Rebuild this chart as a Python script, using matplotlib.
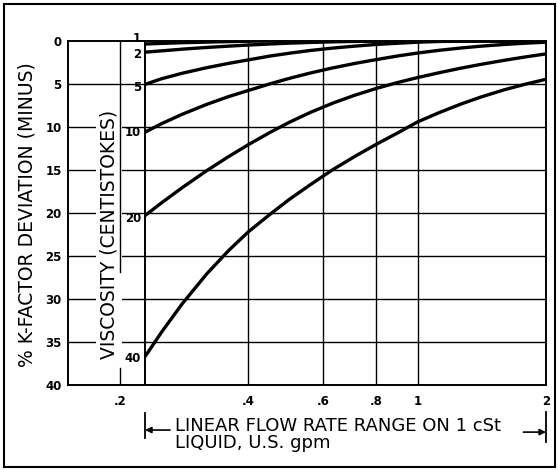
import matplotlib.pyplot as plt
import matplotlib.transforms as mtransforms
from matplotlib.patches import Rectangle

# viscosity of each curve (centistokes)
viscosity = [1, 2, 5, 10, 20, 40]

# flow rate (U.S. gpm) and % K-factor deviation
flow = [0.229, 0.25, 0.28, 0.32, 0.36, 0.4, 0.45, 0.5, 0.56, 0.63,
        0.71, 0.8, 0.9, 1.0, 1.12, 1.26, 1.41, 1.59, 1.78, 2.0]
dev_1 = [0.35, 0.28, 0.2, 0.13, 0.07, 0.03, 0, 0, 0, 0,
         0, 0, 0, 0, 0, 0, 0, 0, 0, 0]
dev_2 = [1.3, 1.15, 0.95, 0.75, 0.6, 0.47, 0.35, 0.25, 0.17, 0.1,
         0.05, 0.02, 0, 0, 0, 0, 0, 0, 0, 0]
dev_5 = [5.05, 4.4, 3.75, 3.1, 2.6, 2.2, 1.75, 1.42, 1.1, 0.83,
         0.6, 0.4, 0.26, 0.14, 0.06, 0.02, 0, 0, 0, 0]
dev_10 = [10.6, 9.63, 8.52, 7.36, 6.46, 5.76, 4.98, 4.34, 3.72, 3.14,
          2.62, 2.16, 1.73, 1.4, 1.09, 0.82, 0.6, 0.41, 0.26, 0.14]
dev_20 = [20.3, 18.84, 17.05, 15.06, 13.43, 12.06, 10.63, 9.44, 8.3, 7.25,
          6.32, 5.51, 4.81, 4.25, 3.7, 3.17, 2.71, 2.26, 1.87, 1.5]
dev_40 = [36.7, 33.9, 30.55, 27.05, 24.35, 22.2, 20.15, 18.4, 16.7, 15.0,
          13.45, 12.0, 10.65, 9.4, 8.35, 7.35, 6.5, 5.7, 5.05, 4.45]
curves = [dev_1, dev_2, dev_5, dev_10, dev_20, dev_40]

x_ticks = [0.2, 0.4, 0.6, 0.8, 1, 2]
x_labels = ['.2', '.4', '.6', '.8', '1', '2']
y_ticks = [0, 5, 10, 15, 20, 25, 30, 35, 40]

# small vertical nudges (points) for the viscosity labels
label_nudge = [4.3, -1.4, -2.2, 0, -1.8, -1.1]


def main():
    fig = plt.figure(figsize=(5.58, 4.70), dpi=100)
    ax = fig.add_axes([0.1219, 0.1809, 0.8566, 0.7319])

    ax.set_xscale('log')
    ax.set_xlim(0.151, 2)
    ax.set_ylim(40, 0)
    ax.set_xticks(x_ticks)
    ax.set_xticklabels(x_labels)
    ax.xaxis.set_minor_locator(plt.NullLocator())
    ax.set_yticks(y_ticks)
    ax.tick_params(length=0, labelsize=8.5)
    ax.tick_params(axis='x', pad=7)
    ax.tick_params(axis='y', pad=4.5)
    for lab in ax.get_xticklabels() + ax.get_yticklabels():
        lab.set_fontweight('bold')
    for sp in ax.spines.values():
        sp.set_linewidth(1.4)

    # grid
    for y in y_ticks[1:-1]:
        ax.axhline(y, color='black', lw=1.0, zorder=1)
    for x in x_ticks[1:-1]:
        ax.axvline(x, color='black', lw=1.0, zorder=1)
    ax.axvline(flow[0], color='black', lw=1.4, zorder=3)
    ax.plot([0.2, 0.2], [0, 26.9], color='black', lw=1.0, zorder=4)
    ax.plot([0.2, 0.2], [38.0, 40], color='black', lw=1.0, zorder=4)

    # curves
    for v, dev, dy in zip(viscosity, curves, label_nudge):
        ax.plot(flow, dev, color='black', lw=2.4, solid_capstyle='butt',
                solid_joinstyle='round', zorder=5)
        ax.annotate(str(v), (flow[0], dev[0]), xytext=(-3, dy),
                    textcoords='offset points', ha='right', va='center',
                    fontsize=8.5, fontweight='bold', zorder=6,
                    annotation_clip=False)

    ax.text(0.195, 0.501, 'VISCOSITY (CENTISTOKES)', transform=fig.transFigure,
            rotation=90, ha='center', va='center', fontsize=13.5,
            bbox=dict(facecolor='white', edgecolor='none', pad=2.5), zorder=3)
    fig.text(0.049, 0.543, '% K-FACTOR DEVIATION (MINUS)', rotation=90,
             ha='center', va='center', fontsize=13.5)

    # flow range arrows under the axis
    trans = mtransforms.blended_transform_factory(ax.transData, ax.transAxes)
    ax.plot([flow[0], flow[0]], [-0.081, -0.155], color='black', lw=1.3,
            transform=trans, clip_on=False)
    ax.plot([flow[-1], flow[-1]], [-0.078, -0.165], color='black', lw=1.3,
            transform=trans, clip_on=False)
    ax.annotate('', xy=(flow[0], -0.131), xytext=(0.262, -0.131),
                xycoords=trans, textcoords=trans,
                arrowprops=dict(arrowstyle='-|>', color='black', lw=1.2,
                                mutation_scale=9, shrinkA=0, shrinkB=0))
    ax.annotate('', xy=(flow[-1], -0.137), xytext=(1.77, -0.137),
                xycoords=trans, textcoords=trans,
                arrowprops=dict(arrowstyle='-|>', color='black', lw=1.2,
                                mutation_scale=9, shrinkA=0, shrinkB=0))
    fig.text(0.3136, 0.083, 'LINEAR FLOW RATE RANGE ON 1 cSt',
             fontsize=13, va='baseline')
    fig.text(0.3136, 0.0468, 'LIQUID, U.S. gpm', fontsize=13, va='baseline')

    # outer frame
    fig.patches.append(Rectangle((0.008, 0.006), 0.986, 0.986,
                                 transform=fig.transFigure, fill=False,
                                 edgecolor='black', lw=1.5))

    fig.savefig('out.png', dpi=100)


if __name__ == "__main__":
    main()
